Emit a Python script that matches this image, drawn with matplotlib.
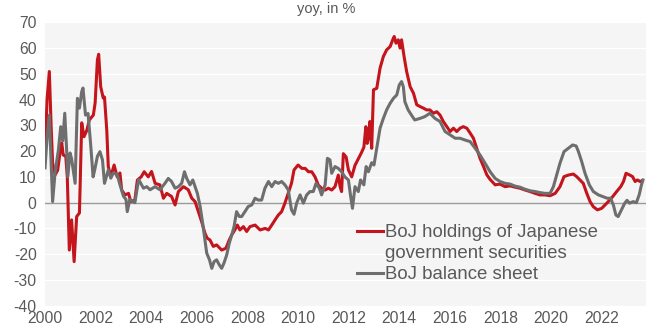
import matplotlib
matplotlib.use("Agg")
import matplotlib.pyplot as plt
from matplotlib.lines import Line2D

# BoJ holdings of JGBs, yoy %
jgb_t = [2000.00, 2000.08, 2000.17, 2000.24, 2000.30, 2000.40, 2000.50, 2000.60, 2000.66, 2000.72,
         2000.82, 2000.88, 2000.92, 2000.96, 2001.05, 2001.15, 2001.25, 2001.36, 2001.45, 2001.54,
         2001.65, 2001.75, 2001.91, 2001.98, 2002.07, 2002.12, 2002.20, 2002.30, 2002.35, 2002.44,
         2002.50, 2002.60, 2002.73, 2002.85, 2002.96, 2003.03, 2003.16, 2003.30, 2003.39, 2003.55,
         2003.65, 2003.80, 2003.92, 2004.08, 2004.21, 2004.35, 2004.54, 2004.68, 2004.81, 2005.00,
         2005.14, 2005.27, 2005.47, 2005.66, 2005.80, 2005.93, 2006.06, 2006.19, 2006.32, 2006.41,
         2006.52, 2006.65, 2006.78, 2006.98, 2007.15, 2007.28, 2007.38, 2007.50, 2007.60, 2007.70,
         2007.84, 2007.97, 2008.10, 2008.30, 2008.50, 2008.70, 2008.83, 2008.96, 2009.09, 2009.22,
         2009.35, 2009.48, 2009.61, 2009.74, 2009.84, 2010.00, 2010.15, 2010.28, 2010.41, 2010.54,
         2010.67, 2010.80, 2010.93, 2011.07, 2011.20, 2011.33, 2011.46, 2011.59, 2011.66, 2011.72,
         2011.79, 2011.90, 2011.99, 2012.12, 2012.25, 2012.38, 2012.51, 2012.60, 2012.68, 2012.73,
         2012.78, 2012.84, 2012.91, 2012.98, 2013.11, 2013.24, 2013.37, 2013.50, 2013.64, 2013.74,
         2013.80, 2013.87, 2013.96, 2014.03, 2014.09, 2014.19, 2014.29, 2014.43, 2014.56, 2014.69,
         2014.82, 2014.95, 2015.08, 2015.21, 2015.35, 2015.48, 2015.61, 2015.74, 2015.88, 2016.01,
         2016.14, 2016.27, 2016.40, 2016.53, 2016.67, 2016.80, 2016.93, 2017.06, 2017.19, 2017.33,
         2017.46, 2017.59, 2017.79, 2017.98, 2018.18, 2018.38, 2018.58, 2018.77, 2018.97, 2019.17,
         2019.37, 2019.56, 2019.76, 2019.96, 2020.16, 2020.35, 2020.51, 2020.68, 2020.88, 2021.01,
         2021.14, 2021.27, 2021.41, 2021.54, 2021.67, 2021.83, 2022.00, 2022.13, 2022.26, 2022.43,
         2022.59, 2022.75, 2022.86, 2022.96, 2023.09, 2023.22, 2023.32, 2023.41, 2023.52, 2023.59]
jgb_v = [17.9, 40.0, 50.9, 30.0, 15.4, 10.8, 12.6, 20.0, 23.2, 18.5,
         18.0, 10.0, -4.0, -18.4, -6.7, -22.9, -5.4, -4.0, 31.0, 25.6,
         28.0, 32.1, 34.0, 38.7, 55.4, 57.6, 45.0, 40.6, 41.0, 28.2,
         14.0, 10.1, 14.6, 10.0, 11.5, 4.9, 3.0, 3.6, 0.4, 1.0,
         8.8, 10.0, 12.0, 10.0, 12.1, 7.5, 6.9, 1.7, 3.6, 2.4,
         -0.9, 4.3, 6.2, 5.0, 1.7, 0.4, -3.5, -7.4, -11.9, -13.8,
         -14.5, -17.0, -16.4, -18.4, -17.7, -14.5, -12.5, -10.6, -8.7, -10.6,
         -9.3, -11.2, -9.3, -8.7, -10.6, -10.0, -10.6, -8.7, -6.7, -4.8,
         -3.5, -0.2, 3.6, 7.5, 12.7, 14.6, 13.3, 13.3, 12.0, 12.0,
         10.0, 6.8, 5.6, 4.9, 5.6, 4.9, 6.2, 10.7, 6.2, 4.3,
         19.0, 17.7, 12.7, 10.0, 14.5, 17.0, 19.5, 21.5, 29.5, 23.0,
         25.0, 31.5, 21.1, 43.8, 44.4, 52.2, 56.7, 59.3, 60.6, 63.2,
         64.5, 61.9, 63.2, 60.0, 63.2, 56.7, 50.9, 45.0, 42.5, 38.0,
         37.3, 36.7, 36.0, 36.0, 34.7, 35.3, 34.0, 31.5, 29.5, 27.6,
         28.9, 27.6, 28.9, 29.5, 28.9, 27.0, 25.0, 21.1, 17.2, 14.0,
         10.8, 9.0, 6.9, 7.2, 6.2, 6.5, 6.0, 5.6, 4.9, 4.3,
         3.6, 3.0, 3.0, 2.7, 3.6, 6.2, 10.1, 10.7, 11.1, 10.1,
         8.8, 7.5, 3.6, 0.4, -1.6, -2.8, -2.2, -0.9, 0.4, 2.3,
         4.3, 6.2, 8.2, 11.4, 10.8, 10.1, 8.2, 8.8, 8.2, 8.5]

# BoJ balance sheet, yoy %
bs_t = [2000.00, 2000.08, 2000.17, 2000.25, 2000.30, 2000.40, 2000.53, 2000.62, 2000.70, 2000.78,
        2000.86, 2000.90, 2000.99, 2001.05, 2001.19, 2001.28, 2001.36, 2001.45, 2001.50, 2001.60,
        2001.70, 2001.80, 2001.90, 2001.98, 2002.07, 2002.17, 2002.27, 2002.35, 2002.50, 2002.60,
        2002.70, 2002.85, 2002.96, 2003.10, 2003.20, 2003.25, 2003.35, 2003.55, 2003.70, 2003.89,
        2004.02, 2004.15, 2004.35, 2004.54, 2004.74, 2004.87, 2005.00, 2005.14, 2005.27, 2005.40,
        2005.51, 2005.60, 2005.73, 2005.84, 2005.93, 2006.02, 2006.13, 2006.23, 2006.32, 2006.39,
        2006.50, 2006.59, 2006.68, 2006.78, 2006.89, 2006.98, 2007.07, 2007.18, 2007.28, 2007.38,
        2007.47, 2007.57, 2007.68, 2007.77, 2007.90, 2008.03, 2008.17, 2008.30, 2008.43, 2008.56,
        2008.69, 2008.83, 2008.96, 2009.09, 2009.22, 2009.35, 2009.48, 2009.61, 2009.74, 2009.84,
        2009.95, 2010.08, 2010.21, 2010.34, 2010.47, 2010.60, 2010.71, 2010.84, 2010.93, 2011.07,
        2011.16, 2011.26, 2011.33, 2011.46, 2011.59, 2011.72, 2011.85, 2011.99, 2012.08, 2012.15,
        2012.25, 2012.38, 2012.47, 2012.60, 2012.69, 2012.78, 2012.91, 2013.00, 2013.11, 2013.24,
        2013.37, 2013.50, 2013.64, 2013.77, 2013.90, 2014.00, 2014.09, 2014.16, 2014.22, 2014.35,
        2014.48, 2014.61, 2014.82, 2015.01, 2015.21, 2015.41, 2015.61, 2015.81, 2016.01, 2016.21,
        2016.40, 2016.60, 2016.80, 2017.00, 2017.19, 2017.39, 2017.59, 2017.79, 2017.98, 2018.18,
        2018.38, 2018.58, 2018.77, 2018.97, 2019.17, 2019.37, 2019.56, 2019.76, 2019.96, 2020.09,
        2020.20, 2020.35, 2020.51, 2020.68, 2020.85, 2020.99, 2021.08, 2021.21, 2021.34, 2021.51,
        2021.67, 2021.87, 2022.06, 2022.22, 2022.35, 2022.46, 2022.56, 2022.65, 2022.78, 2022.91,
        2023.00, 2023.10, 2023.24, 2023.37, 2023.48, 2023.57, 2023.63]
bs_v = [13.5, 25.0, 34.0, 13.0, 0.4, 12.0, 20.5, 29.5, 24.0, 34.7,
        19.3, 10.0, 19.3, 17.0, 7.5, 40.5, 36.7, 43.1, 44.5, 34.0,
        34.6, 23.0, 10.0, 13.5, 18.0, 19.8, 16.6, 7.5, 12.7, 9.5,
        11.5, 11.0, 7.0, 2.5, 1.2, -3.5, 1.2, 0.0, 9.0, 5.6,
        6.2, 5.0, 6.2, 5.0, 7.5, 9.4, 8.2, 5.6, 6.2, 7.5,
        12.0, 9.4, 6.9, 8.8, 6.2, 3.6, -1.5, -8.0, -14.5, -19.6,
        -22.2, -25.5, -22.9, -22.2, -24.2, -25.5, -23.5, -20.3, -15.8, -12.5,
        -9.3, -3.5, -5.4, -5.4, -3.5, -1.5, -0.9, 1.7, 1.0, 1.0,
        5.6, 8.2, 6.2, 8.2, 7.5, 8.2, 6.9, 5.0, -2.8, -4.5,
        0.0, 3.0, -0.2, 3.0, 4.3, 4.3, 7.5, 5.6, 3.0, 6.9,
        17.2, 16.6, 11.4, 14.0, 13.3, 12.0, 10.0, 8.8, 2.3, -2.2,
        6.2, 4.3, 8.8, 6.9, 14.0, 12.0, 15.5, 14.6, 21.1, 28.9,
        32.7, 36.0, 38.6, 40.5, 41.8, 45.7, 47.0, 45.0, 39.2, 36.0,
        34.0, 32.1, 32.7, 33.4, 34.7, 32.7, 31.5, 27.6, 26.3, 25.0,
        25.0, 24.3, 23.7, 21.1, 18.5, 15.3, 12.0, 9.4, 8.2, 7.5,
        7.2, 6.4, 6.0, 5.2, 4.6, 4.3, 3.9, 3.6, 3.6, 6.2,
        10.1, 15.3, 19.8, 21.1, 22.4, 22.0, 19.8, 15.9, 11.4, 6.9,
        4.3, 3.0, 2.3, 1.7, 1.7, -0.9, -4.8, -5.4, -2.8, -0.2,
        0.9, -0.2, 0.4, 0.0, 3.0, 6.9, 8.8]

years = list(range(2000, 2023, 2))
yticks = list(range(-40, 71, 10))

RED = "#c4141c"
GREY = "#6e6e6e"
TXT = "#595959"

plt.rcParams["font.family"] = ["Liberation Sans", "DejaVu Sans"]

fig = plt.figure(figsize=(6.46, 3.33), dpi=100)
ax = fig.add_axes([0.0697, 0.082, 0.9303, 0.851])
ax.set_facecolor("#f5f5f5")

ax.plot(jgb_t, jgb_v, color=RED, lw=2.2, solid_joinstyle="round")
ax.plot(bs_t, bs_v, color=GREY, lw=2.2, solid_joinstyle="round")
ax.axhline(0, color="#9a9a9a", lw=1.0, zorder=1)

ax.set_xlim(2000, 2023.75)
ax.set_ylim(-40, 70)
ax.set_xticks(years)
ax.set_xticklabels([str(y) for y in years])
ax.set_yticks(yticks)
ax.set_yticklabels([str(v) for v in yticks])
ax.yaxis.grid(True, color="white", lw=1.0)
ax.set_axisbelow(True)
ax.tick_params(length=0, colors=TXT, labelsize=11.3)
ax.tick_params(axis="x", pad=4)
ax.tick_params(axis="y", pad=6)
for s in ax.spines.values():
    s.set_visible(False)

# second label line gets an empty handle so the red key sits on the first line
handles = [Line2D([], [], color=RED, lw=2.2),
           Line2D([], [], color="none"),
           Line2D([], [], color=GREY, lw=2.2)]
labels = ["BoJ holdings of Japanese", "government securities", "BoJ balance sheet"]
leg = ax.legend(handles, labels, loc="upper left", bbox_to_anchor=(0.519, 0.287),
                frameon=False, fontsize=13.4, handlelength=1.4, handletextpad=0.1,
                labelspacing=0.21, borderpad=0, borderaxespad=0)
for t in leg.get_texts():
    t.set_color(TXT)

fig.text(0.505, 0.972, "yoy, in %", ha="center", va="center", fontsize=10.5, color=TXT)

fig.savefig("out.png", dpi=100)
